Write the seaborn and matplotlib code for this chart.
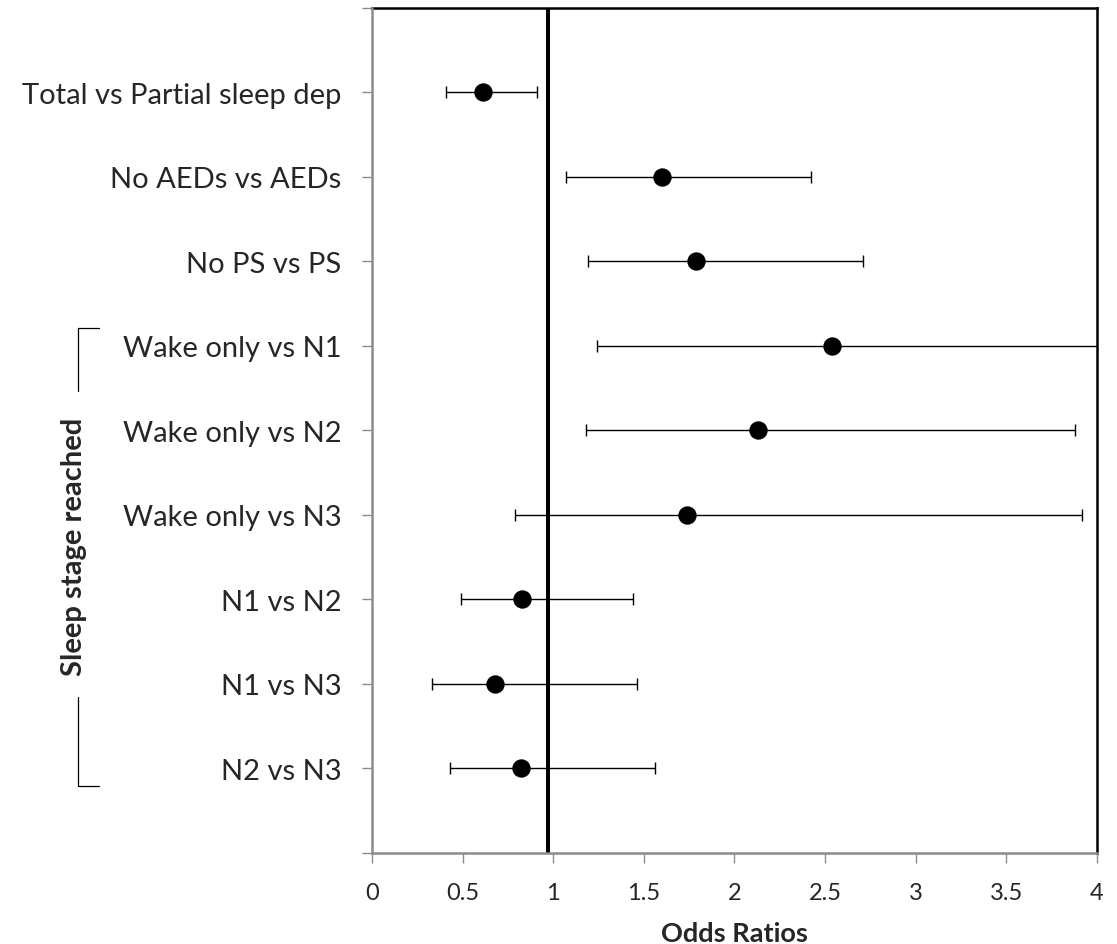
import matplotlib
matplotlib.use("Agg")
import matplotlib.pyplot as plt
import seaborn as sns
import pandas as pd
from matplotlib.lines import Line2D

# Odds ratios with 95% confidence intervals
comparisons = [
    "Total vs Partial sleep dep",
    "No AEDs vs AEDs",
    "No PS vs PS",
    "Wake only vs N1",
    "Wake only vs N2",
    "Wake only vs N3",
    "N1 vs N2",
    "N1 vs N3",
    "N2 vs N3",
]
odds_ratio = [0.61, 1.60, 1.79, 2.54, 2.13, 1.74, 0.83, 0.68, 0.82]
ci_low = [0.41, 1.07, 1.19, 1.24, 1.18, 0.79, 0.49, 0.33, 0.43]
ci_high = [0.91, 2.42, 2.71, 4.40, 3.88, 3.92, 1.44, 1.46, 1.56]
reference_or = 0.97
x_ticks = [0, 0.5, 1, 1.5, 2, 2.5, 3, 3.5, 4]
x_tick_labels = ["0", "0.5", "1", "1.5", "2", "2.5", "3", "3.5", "4"]

sns.set_style("white")
plt.rcParams["font.family"] = ["Lato", "DejaVu Sans"]

n = len(comparisons)
df = pd.DataFrame({
    "comparison": comparisons,
    "or": odds_ratio,
    "lo": ci_low,
    "hi": ci_high,
    "pos": [n - i for i in range(n)],
})

fig = plt.figure(figsize=(11.17, 9.45), dpi=100)
ax = fig.add_axes([0.333, 0.0963, 0.649, 0.8942])

ax.errorbar(df["or"], df["pos"],
            xerr=[df["or"] - df["lo"], df["hi"] - df["or"]],
            fmt="none", ecolor="black", elinewidth=1.0,
            capsize=4.5, capthick=1.0, zorder=2)
sns.scatterplot(data=df, x="or", y="pos", ax=ax, s=175, color="black",
                edgecolor="black", linewidth=0, zorder=3, legend=False)
ax.axvline(reference_or, color="black", lw=2.9, zorder=1)

ax.set_xlim(0, 4)
ax.set_ylim(0, n + 1)
ax.set_xticks(x_ticks)
ax.set_xticklabels(x_tick_labels, fontsize=17)
ax.set_yticks(range(0, n + 2))
ax.set_yticklabels([""] + list(df["comparison"][::-1]) + [""], fontsize=21)
ax.tick_params(axis="both", which="both", direction="out", length=7,
               width=1.0, color="#8c8c8c", left=True, bottom=True)
ax.tick_params(axis="y", pad=15)
ax.tick_params(axis="x", pad=14)
ax.set_xlabel("Odds Ratios", fontsize=19.5, fontweight="bold", labelpad=13)
ax.set_ylabel("")

for side in ["top", "right"]:
    ax.spines[side].set_visible(True)
    ax.spines[side].set_color("black")
    ax.spines[side].set_linewidth(1.8)
for side in ["left", "bottom"]:
    ax.spines[side].set_color("#8c8c8c")
    ax.spines[side].set_linewidth(1.8)
    ax.spines[side].set_zorder(5)

# Bracket grouping the sleep-stage comparisons
def px(x, y):
    return fig.transFigure.inverted().transform(
        fig.dpi_scale_trans.transform((x / 100, (945 - y) / 100)))

for pts in ([(99, 329), (78, 329), (78, 392)],
            [(78, 698), (78, 787), (99, 787)]):
    xy = [px(*p) for p in pts]
    fig.add_artist(Line2D([p[0] for p in xy], [p[1] for p in xy],
                          color="black", lw=0.9, transform=fig.transFigure))

tx, ty = px(74, 547)
fig.text(tx, ty, "Sleep stage reached", rotation=90, ha="center", va="center",
         fontsize=21, fontweight="bold")

fig.savefig("out.png", dpi=100)
